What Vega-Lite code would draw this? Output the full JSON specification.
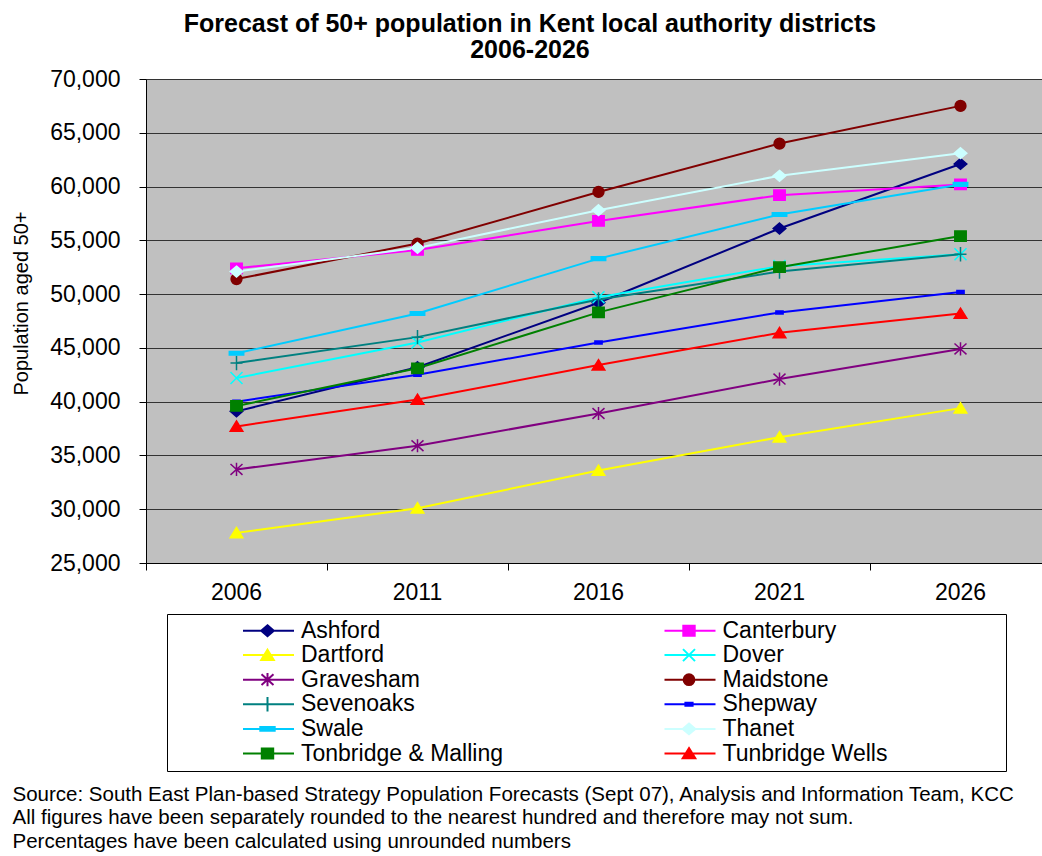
{
  "$schema": "https://vega.github.io/schema/vega-lite/v6.json",
  "width": 896,
  "height": 484,
  "autosize": {"type": "none"},
  "padding": {"left": 146, "top": 79, "right": 0, "bottom": 293},
  "background": "white",
  "config": {"view": {"fill": "#C0C0C0", "stroke": null}, "font": "Liberation Sans"},
  "title": {
    "text": ["Forecast of 50+ population in Kent local authority districts", "2006-2026"],
    "fontSize": 25, "fontWeight": "bold", "lineHeight": 26, "color": "black",
    "anchor": "middle", "frame": "group", "dx": -64, "offset": 5
  },
  "data": {"values": [
    {"district": "Ashford", "year": "2006", "value": 39100},
    {"district": "Ashford", "year": "2011", "value": 43200},
    {"district": "Ashford", "year": "2016", "value": 49200},
    {"district": "Ashford", "year": "2021", "value": 56100},
    {"district": "Ashford", "year": "2026", "value": 62100},
    {"district": "Canterbury", "year": "2006", "value": 52400},
    {"district": "Canterbury", "year": "2011", "value": 54100},
    {"district": "Canterbury", "year": "2016", "value": 56800},
    {"district": "Canterbury", "year": "2021", "value": 59200},
    {"district": "Canterbury", "year": "2026", "value": 60200},
    {"district": "Dartford", "year": "2006", "value": 27800},
    {"district": "Dartford", "year": "2011", "value": 30100},
    {"district": "Dartford", "year": "2016", "value": 33600},
    {"district": "Dartford", "year": "2021", "value": 36700},
    {"district": "Dartford", "year": "2026", "value": 39400},
    {"district": "Dover", "year": "2006", "value": 42200},
    {"district": "Dover", "year": "2011", "value": 45500},
    {"district": "Dover", "year": "2016", "value": 49700},
    {"district": "Dover", "year": "2021", "value": 52600},
    {"district": "Dover", "year": "2026", "value": 53700},
    {"district": "Gravesham", "year": "2006", "value": 33700},
    {"district": "Gravesham", "year": "2011", "value": 35900},
    {"district": "Gravesham", "year": "2016", "value": 38900},
    {"district": "Gravesham", "year": "2021", "value": 42100},
    {"district": "Gravesham", "year": "2026", "value": 44900},
    {"district": "Maidstone", "year": "2006", "value": 51400},
    {"district": "Maidstone", "year": "2011", "value": 54700},
    {"district": "Maidstone", "year": "2016", "value": 59500},
    {"district": "Maidstone", "year": "2021", "value": 64000},
    {"district": "Maidstone", "year": "2026", "value": 67500},
    {"district": "Sevenoaks", "year": "2006", "value": 43600},
    {"district": "Sevenoaks", "year": "2011", "value": 46000},
    {"district": "Sevenoaks", "year": "2016", "value": 49500},
    {"district": "Sevenoaks", "year": "2021", "value": 52100},
    {"district": "Sevenoaks", "year": "2026", "value": 53700},
    {"district": "Shepway", "year": "2006", "value": 40000},
    {"district": "Shepway", "year": "2011", "value": 42500},
    {"district": "Shepway", "year": "2016", "value": 45500},
    {"district": "Shepway", "year": "2021", "value": 48300},
    {"district": "Shepway", "year": "2026", "value": 50200},
    {"district": "Swale", "year": "2006", "value": 44500},
    {"district": "Swale", "year": "2011", "value": 48200},
    {"district": "Swale", "year": "2016", "value": 53300},
    {"district": "Swale", "year": "2021", "value": 57400},
    {"district": "Swale", "year": "2026", "value": 60200},
    {"district": "Thanet", "year": "2006", "value": 52100},
    {"district": "Thanet", "year": "2011", "value": 54300},
    {"district": "Thanet", "year": "2016", "value": 57800},
    {"district": "Thanet", "year": "2021", "value": 61000},
    {"district": "Thanet", "year": "2026", "value": 63100},
    {"district": "Tonbridge & Malling", "year": "2006", "value": 39600},
    {"district": "Tonbridge & Malling", "year": "2011", "value": 43100},
    {"district": "Tonbridge & Malling", "year": "2016", "value": 48300},
    {"district": "Tonbridge & Malling", "year": "2021", "value": 52500},
    {"district": "Tonbridge & Malling", "year": "2026", "value": 55400},
    {"district": "Tunbridge Wells", "year": "2006", "value": 37700},
    {"district": "Tunbridge Wells", "year": "2011", "value": 40200},
    {"district": "Tunbridge Wells", "year": "2016", "value": 43400},
    {"district": "Tunbridge Wells", "year": "2021", "value": 46400},
    {"district": "Tunbridge Wells", "year": "2026", "value": 48200}
  ]},
  "layer": [
    {
      "mark": {"type": "line", "strokeWidth": 2},
      "encoding": {
        "x": {
          "field": "year", "type": "ordinal",
          "scale": {"type": "band", "range": [0, 905], "paddingInner": 0, "paddingOuter": 0},
          "axis": {
            "orient": "bottom", "labelAngle": 0, "labelFontSize": 23, "labelColor": "black", "labelPadding": 18,
            "ticks": false, "grid": false, "domainColor": "black", "domainWidth": 1,
            "title": [
              "Source: South East Plan-based Strategy Population Forecasts (Sept 07), Analysis and Information Team, KCC",
              "All figures have been separately rounded to the nearest hundred and therefore may not sum.",
              "Percentages have been calculated using unrounded numbers"
            ],
            "titleFontSize": 20.5, "titleFontWeight": "normal", "titleColor": "black",
            "titleAlign": "left", "titleAnchor": "start", "titleBaseline": "top",
            "titleX": -134, "titleY": 221, "titleLineHeight": 23.5, "titleLimit": 2000
          }
        },
        "y": {
          "field": "value", "type": "quantitative",
          "scale": {"domain": [25000, 70000], "nice": false, "zero": false},
          "axis": {
            "values": [25000, 30000, 35000, 40000, 45000, 50000, 55000, 60000, 65000, 70000],
            "labelExpr": "format(datum.value, ',')",
            "labelFontSize": 23, "labelColor": "black", "labelPadding": 19,
            "tickSize": 7, "tickColor": "black", "domainColor": "black", "domainWidth": 1,
            "grid": true, "gridColor": "#333333", "gridWidth": 1,
            "title": "Population aged 50+", "titleFontSize": 20, "titleFontWeight": "normal", "titleColor": "black",
            "titleX": -125, "titleY": 224, "titleAngle": 270, "titleAlign": "center", "titleBaseline": "middle", "titleLimit": 1000
          }
        },
        "color": {
          "field": "district", "type": "nominal",
          "scale": {
            "domain": ["Ashford", "Canterbury", "Dartford", "Dover", "Gravesham", "Maidstone", "Sevenoaks", "Shepway", "Swale", "Thanet", "Tonbridge & Malling", "Tunbridge Wells"],
            "range": ["#000080", "#FF00FF", "#FFFF00", "#00FFFF", "#800080", "#800000", "#008080", "#0000FF", "#00CCFF", "#CCFFFF", "#008000", "#FF0000"]
          },
          "legend": {
            "title": null, "orient": "none", "legendX": 21, "legendY": 535, "direction": "horizontal",
            "columns": 2, "columnPadding": 89.5, "rowPadding": 0.6, "padding": 5,
            "strokeColor": "black", "fillColor": "white",
            "labelFontSize": 23, "labelColor": "black", "labelOffset": 22, "labelLimit": 400,
            "symbolSize": 100, "symbolOffset": 84,
            "encode": {
              "symbols": {
                "update": {
                  "shape": {"signal": "{'Ashford':'M-4.9,0H5.3M0,-1.08L1.26,0L0,1.08L-1.26,0Z','Canterbury':'M61.6,0M-4.9,0H5.3M-1.14,-1.02H1.14V1.02H-1.14Z','Dartford':'M-4.9,0H5.3M0,-1.08L1.26,0.96H-1.26Z','Dover':'M61.6,0M-4.9,0H5.3M-1.2,-1.2L1.2,1.2M-1.2,1.2L1.2,-1.2','Gravesham':'M-4.9,0H5.3M-1.2,-1.08L1.2,1.08M-1.2,1.08L1.2,-1.08M0,-1.32V1.32','Maidstone':'M61.6,0M-4.9,0H5.3M-1.08,0A1.08,1.08 0 1,0 1.08,0A1.08,1.08 0 1,0 -1.08,0Z','Sevenoaks':'M-4.9,0H5.3M0,-1.44V1.44','Shepway':'M61.6,0M-4.9,0H5.3M-0.72,-0.3H0.72V0.3H-0.72Z','Swale':'M-4.9,0H5.3M-1.44,-0.36H1.44V0.36H-1.44Z','Thanet':'M61.6,0M-4.9,0H5.3M0,-1.08L1.26,0L0,1.08L-1.26,0Z','Tonbridge & Malling':'M-4.9,0H5.3M-1.14,-1.02H1.14V1.02H-1.14Z','Tunbridge Wells':'M61.6,0M-4.9,0H5.3M0,-1.08L1.26,0.96H-1.26Z'}[datum.value]"},
                  "fill": {"scale": "color", "field": "value"},
                  "stroke": {"scale": "color", "field": "value"},
                  "strokeWidth": {"value": 2},
                  "size": {"value": 100},
                  "opacity": {"value": 1}
                }
              }
            }
          }
        }
      }
    },
    {
      "mark": {"type": "point", "filled": true, "size": 144, "strokeWidth": 1.5, "opacity": 1},
      "encoding": {
        "x": {
          "field": "year", "type": "ordinal",
          "axis": {"orient": "bottom", "labels": false, "ticks": true, "tickSize": 7, "tickColor": "black", "bandPosition": 0, "domain": false, "grid": false, "title": null}
        },
        "y": {"field": "value", "type": "quantitative"},
        "shape": {
          "field": "district", "type": "nominal",
          "scale": {
            "range": [
              "M0,-0.9L1.05,0L0,0.9L-1.05,0Z",
              "M-0.95,-0.85H0.95V0.85H-0.95Z",
              "M0,-0.9L1.05,0.8H-1.05Z",
              "M-1,-1L1,1M-1,1L1,-1",
              "M-1,-0.9L1,0.9M-1,0.9L1,-0.9M0,-1.1V1.1",
              "M-0.9,0A0.9,0.9 0 1,0 0.9,0A0.9,0.9 0 1,0 -0.9,0Z",
              "M-1,0H1M0,-1.2V1.2",
              "M-0.6,-0.25H0.6V0.25H-0.6Z",
              "M-1.2,-0.3H1.2V0.3H-1.2Z",
              "M0,-0.9L1.05,0L0,0.9L-1.05,0Z",
              "M-0.95,-0.85H0.95V0.85H-0.95Z",
              "M0,-0.9L1.05,0.8H-1.05Z"
            ]
          },
          "legend": null
        },
        "fill": {
          "field": "district", "type": "nominal",
          "scale": {
            "range": ["#000080", "#FF00FF", "#FFFF00", "#00FFFF", "#800080", "#800000", "#008080", "#0000FF", "#00CCFF", "#CCFFFF", "#008000", "#FF0000"]
          },
          "legend": null
        },
        "stroke": {
          "field": "district", "type": "nominal",
          "scale": {
            "range": ["#000080", "#FF00FF", "#FFFF00", "#00FFFF", "#800080", "#800000", "#008080", "#0000FF", "#00CCFF", "#CCFFFF", "#008000", "#FF0000"]
          },
          "legend": null
        }
      }
    }
  ],
  "resolve": {"axis": {"x": "independent"}}
}
